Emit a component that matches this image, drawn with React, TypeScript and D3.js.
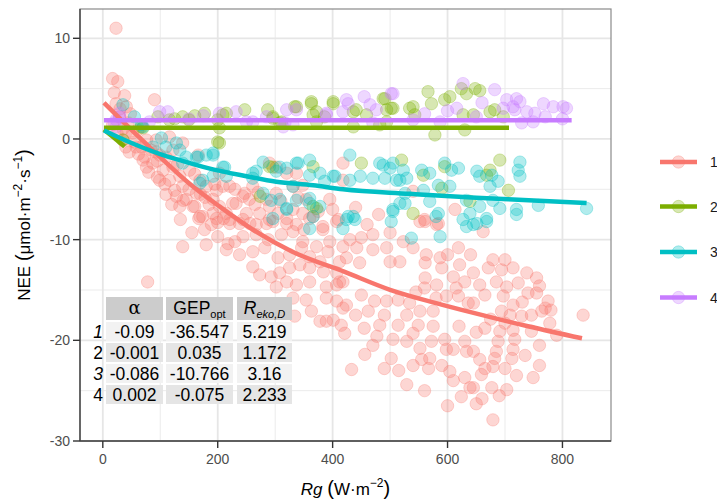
import React from 'react';
import * as d3 from 'd3';

const W = 717;
const H = 502;

const seriesNames = ['1', '2', '3', '4'];
const colors = ['#F8766D', '#7CAE00', '#00BFC4', '#C77CFF'];
const xTicks = [0, 200, 400, 600, 800];
const yTicks = [-30, -20, -10, 0, 10];
const xMinor = [100, 300, 500, 700];
const yMinor = [-25, -15, -5, 5];

const rowHeads = ['1', '2', '3', '4'];
const alphaVals = ['-0.09', '-0.001', '-0.086', '0.002'];
const gepVals = ['-36.547', '0.035', '-10.766', '-0.075'];
const rVals = ['5.219', '1.172', '3.16', '2.233'];

type P = [number, number];

const pts1: P[] = [
  [23, 11.0], [17, 6.0], [26, 5.7], [20, 4.6], [38, 4.3], [90, 3.9], [23, 3.5], [41, 3.2], [29, 2.2], [17, 1.4],
  [44, 1.6], [52, 0.6], [35, -0.1], [46, -1.3], [67, -0.8], [73, -1.8], [93, -1.3], [87, -2.4], [110, -1.8], [105, -3.1],
  [122, -2.8], [116, -4.1], [134, -3.7], [139, -4.7], [125, -5.1], [145, -6.0], [163, -5.4], [166, -1.6], [160, -6.7], [174, -7.7],
  [134, -6.7], [192, -6.0], [209, -4.7], [215, -7.4], [232, -6.4], [247, -5.4], [250, -7.4], [256, -8.4], [238, -8.4], [273, -7.4],
  [290, -6.7], [305, -7.4], [320, -8.4], [331, -7.0], [348, -7.4], [366, -7.7], [354, -6.0], [383, -8.7], [418, -2.4], [302, -2.8],
  [320, -3.4], [122, -1.1], [93, -0.1], [76, -0.1], [58, -0.8], [61, 0.9], [41, 0.7], [76, -2.8], [99, -4.1], [151, -3.1],
  [169, -4.1], [180, -4.7], [203, -3.4], [70, -2.1], [84, -1.1], [99, -1.6], [128, -5.7], [157, -6.7], [192, -7.4], [169, -7.7],
  [139, -0.4], [116, 0.2], [290, -2.4], [337, -3.4], [348, -4.6], [331, -4.7], [395, -6.0], [418, -4.1], [221, -4.7], [198, -5.1],
  [244, -5.7], [226, -6.4], [203, -6.7], [221, -8.0], [285, -6.0], [302, -5.4], [285, -8.4], [261, -4.7], [540, -5.2], [613, -7.0],
  [560, -8.0], [584, -8.4], [167, -7.9], [177, -9.0], [189, -8.5], [139, -10.7], [78, -14.2], [30, 3.0], [35, 1.0], [48, 2.5],
  [25, 0.5], [55, -0.3], [62, -1.5], [40, -0.8], [80, -3.3], [95, -2.2], [108, -4.5], [130, -2.5], [150, -5.0], [140, -6.1],
  [170, -5.5], [185, -6.5], [200, -8.3], [210, -7.9],
  [198, -7.9], [221, -8.4], [244, -8.0], [267, -8.5], [296, -8.2], [320, -7.9], [337, -8.5], [360, -7.9], [383, -9.0], [407, -8.2],
  [218, -10.4], [244, -9.7], [267, -9.5], [288, -10.0], [311, -9.5], [331, -9.2], [348, -10.2], [372, -10.7], [395, -10.2], [418, -10.7],
  [238, -11.5], [261, -11.2], [282, -10.8], [305, -11.8], [325, -11.5], [346, -10.8], [360, -11.7], [378, -12.2], [392, -11.2], [412, -12.2],
  [261, -12.7], [273, -13.5], [293, -13.7], [308, -13.3], [325, -12.8], [343, -12.5], [360, -12.8], [384, -13.2], [407, -13.3], [418, -14.2],
  [302, -14.7], [320, -14.2], [337, -14.5], [360, -14.2], [389, -14.7], [407, -14.5], [331, -15.8], [354, -16.0], [363, -17.1], [389, -15.8],
  [407, -16.1], [418, -16.8], [378, -18.1], [389, -18.1], [401, -18.0], [415, -18.5], [334, -17.6],
  [430, -10.0], [442, -10.8], [424, -11.8], [447, -12.3], [470, -11.0], [494, -10.8], [500, -12.2], [517, -12.2], [523, -10.2], [563, -11.5],
  [561, -12.3], [587, -11.8], [619, -10.8], [621, -12.5], [561, -13.8], [581, -14.5], [610, -13.7], [630, -14.2], [412, -14.2], [424, -16.5],
  [450, -15.5], [473, -16.1], [462, -17.1], [494, -16.1], [514, -16.0], [534, -16.3], [552, -17.1], [529, -17.5], [575, -17.1], [598, -15.6],
  [619, -15.6], [636, -16.3], [421, -19.3], [482, -18.5], [477, -19.6], [514, -18.5], [549, -18.5], [575, -18.6], [505, -19.9], [529, -20.1],
  [552, -20.8], [572, -20.1], [595, -19.9], [610, -20.9], [630, -20.1], [633, -21.1], [456, -21.4], [502, -21.8], [555, -21.9], [569, -21.8],
  [567, -22.8], [433, -22.9], [604, -23.1], [630, -23.7], [624, -25.6], [529, -24.4], [639, -24.7], [598, -20.9], [552, -8.2], [581, -8.5],
  [561, -8.2],
  [662, -9.2], [679, -12.0], [671, -12.8], [694, -13.0], [714, -12.8], [738, -13.3], [755, -13.8], [645, -13.3], [656, -14.5], [685, -14.2],
  [703, -14.7], [723, -14.3], [740, -15.3], [755, -15.3], [775, -16.1], [645, -16.3], [665, -15.5], [697, -15.6], [714, -16.5], [694, -17.1],
  [709, -17.5], [729, -17.6], [746, -17.5], [764, -17.1], [778, -18.3], [770, -16.8], [836, -17.5], [665, -18.8], [691, -19.1], [714, -19.0],
  [746, -19.1], [688, -20.1], [717, -19.9], [645, -21.1], [685, -21.1], [714, -20.9], [712, -21.8], [682, -21.8], [656, -21.9], [679, -22.6],
  [665, -22.8], [659, -23.4], [645, -24.7], [677, -24.7], [703, -24.9], [749, -23.7], [679, -27.9],
  [310, -6.2], [340, -5.8], [375, -7.2], [400, -7.0], [410, -8.0], [290, -8.0], [265, -6.5], [350, -9.0],
  [440, -6.8], [460, -8.5], [480, -7.5], [500, -9.3], [470, -9.5], [450, -9.8],
  [540, -10.8], [560, -14.8], [590, -12.8], [615, -14.8], [600, -11.5], [640, -11.5], [545, -15.2], [580, -15.8],
  [700, -12.0], [730, -16.2], [760, -14.6], [780, -17.0], [790, -19.5], [760, -20.5], [735, -21.5], [700, -22.8], [720, -23.5],
  [690, -25.5], [660, -25.8], [650, -19.2], [700, -18.3], [675, -17.9], [760, -22.5],
  [440, -17.5], [470, -20.5], [490, -22.8], [515, -23.0], [540, -22.5], [560, -25.0], [590, -22.5], [610, -24.0], [620, -18.6],
  [650, -26.3], [600, -26.5], [540, -19.3], [490, -17.5], [455, -18.8],
  [120, -6.5], [135, -8.0], [155, -9.3], [180, -10.5], [200, -9.7], [215, -11.0], [230, -10.2], [160, -3.5], [178, -5.8],
  [195, -4.5], [230, -5.0], [255, -6.0], [270, -5.3], [110, -5.5], [95, -3.8],
];

const pts2: P[] = [
  [139, 2.2], [177, 2.55], [209, 2.4], [247, 2.9], [287, 2.9], [296, 2.2], [337, 3.2], [363, 3.7], [366, 2.4], [401, 3.7],
  [436, 2.7], [491, 4.0], [505, 3.05], [534, 3.05], [96, 2.2], [70, 1.1], [116, 1.9], [203, -0.4], [203, 1.1], [436, 1.2],
  [308, 1.6], [372, 1.7], [482, 1.4], [35, -0.1], [200, 1.9], [215, 2.55], [296, 2.05], [334, 3.2], [363, 3.5], [372, 2.7],
  [401, 3.5], [386, 2.2], [441, 2.9], [459, 2.4], [488, 4.0], [502, 3.05], [494, 1.7], [311, 1.7], [494, 2.9], [540, 3.2],
  [566, 4.7], [572, 3.5], [595, 3.9], [604, 4.2], [624, 5.0], [633, 4.5], [648, 5.0], [656, 4.8], [627, 2.4], [645, 2.4],
  [674, 2.7], [682, 2.9], [697, 2.2], [543, 2.4], [578, 0.4], [630, 0.9], [274, -5.7], [366, -6.7], [296, -2.8], [450, -2.4],
  [520, -2.1], [290, -2.75], [366, -2.75], [372, -6.9], [558, -3.6], [590, -4.9], [595, -2.75], [540, -7.4], [639, -6.2], [668, -3.6],
  [691, -2.1], [706, -5.1], [674, -3.1], [67, 1.2], [200, -0.3], [150, 1.9], [160, 2.3], [125, 2.0],
];

const pts3: P[] = [
  [35, 3.4], [55, 2.2], [70, 1.2], [87, -0.8], [102, 0.1], [128, -0.4], [134, -1.1], [139, -2.4], [163, -1.8], [180, -1.6],
  [192, -1.6], [174, -4.1], [192, -3.7], [212, -2.8], [215, -3.7], [261, -3.4], [279, -2.3], [308, -2.8], [337, -2.4], [360, -2.1],
  [378, -3.4], [401, -3.7], [430, -1.6], [448, -3.7], [470, -3.9], [488, -2.6], [511, -4.1], [523, -3.1], [279, -5.4], [293, -6.1],
  [320, -7.0], [337, -6.1], [360, -6.4], [378, -6.7], [366, -7.7], [424, -8.0], [436, -7.7], [505, -7.0], [517, -6.4], [526, -5.4],
  [110, -0.8], [145, -1.8], [192, -1.4], [209, -2.8], [267, -3.2], [302, -3.2], [320, -2.9], [340, -2.4], [360, -3.6], [386, -4.2],
  [404, -3.7], [430, -4.1], [502, -8.2], [427, -7.7], [360, -5.9], [320, -6.9], [308, -6.0], [331, -4.7], [261, -3.9], [505, -2.4],
  [529, -3.9], [482, -2.4], [500, -2.9], [491, -3.9], [517, -4.1], [555, -3.1], [569, -3.4], [595, -2.4], [607, -3.1], [619, -2.9],
  [584, -4.6], [604, -4.7], [651, -3.2], [656, -3.7], [677, -3.6], [688, -4.2], [674, -4.7], [679, -6.1], [691, -6.9], [656, -6.7],
  [633, -6.1], [639, -7.4], [668, -7.9], [651, -8.4], [720, -7.0], [726, -2.3], [723, -3.1], [726, -3.7], [758, -6.6], [842, -6.9],
  [505, -7.2], [526, -6.4], [569, -6.2], [584, -7.4], [627, -8.0], [558, -5.1], [296, -7.9], [360, -8.9], [418, -8.9], [439, -8.0],
  [580, -7.7], [633, -8.7], [645, -8.5], [668, -8.2], [720, -7.5], [67, 1.4], [166, -1.8], [169, -4.4], [537, -9.85], [587, -9.7],
];

const pts4: P[] = [
  [113, 2.7], [424, 3.9], [505, 4.5], [465, 3.4], [418, 2.7], [314, 1.2], [203, 2.55], [81, 1.7], [250, 1.7], [337, 2.9],
  [470, 1.6], [23, 1.2], [29, 2.2], [29, 2.55], [23, 1.9], [20, 1.6], [427, 3.5], [502, 4.5], [317, 1.6], [261, 1.7],
  [476, 2.9], [389, 2.4], [627, 5.5], [682, 4.9], [720, 4.0], [726, 3.7], [738, 2.7], [752, 2.55], [767, 3.5], [784, 3.2],
  [801, 3.2], [729, 1.6], [749, 1.7], [587, 1.7], [616, 3.05], [697, 3.05], [714, 3.2], [703, 3.9], [717, 2.9], [807, 3.05],
  [99, 2.7], [232, 2.7], [285, 2.2], [320, 2.9], [389, 2.55], [331, 1.4], [150, 2.0], [175, 2.3], [560, 2.5], [650, 2.2],
  [540, 1.9], [600, 2.8], [660, 3.6], [770, 2.2], [800, 2.0], [455, 4.2],
];

const line1: P[] = [
  [2, 3.6], [50, 0.9], [99, -1.76], [150, -4.4], [203, -6.7], [262, -9.04], [330, -11.2], [421, -13.2], [500, -14.98],
  [580, -16.3], [647, -17.3], [740, -18.6], [834, -19.8],
];
const line2main: P[] = [
  [2, 1.12], [100, 1.12], [707, 1.12],
];
const line2dip: P[] = [
  [2, 0.95], [38, -0.75],
];
const line3: P[] = [
  [2, 0.85], [50, -0.4], [100, -1.5], [134, -2.1], [183, -2.9], [250, -3.7], [302, -4.24], [366, -4.6], [418, -5.0],
  [534, -5.45], [650, -5.85], [750, -6.1], [842, -6.36],
];
const line4: P[] = [
  [2, 1.85], [816, 1.85],
];

const allPts = [pts1, pts2, pts3, pts4];
const allLines: { data: P[]; s: number; curve: boolean }[] = [
  { data: line1, s: 0, curve: true },
  { data: line2main, s: 1, curve: false },
  { data: line2dip, s: 1, curve: false },
  { data: line3, s: 2, curve: true },
  { data: line4, s: 3, curve: false },
];

const FONT = 'Arial, "Liberation Sans", Helvetica, sans-serif';

export default function App() {
  const left = 80, right = 611, top = 9, bottom = 441;
  const x = d3.scaleLinear().domain([-39.7, 884.5]).range([left, right]);
  const y = d3.scaleLinear().domain([-30, 12.91]).range([bottom, top]);

  const lineGen = (curve: boolean) =>
    d3.line<P>().x(d => x(d[0])).y(d => y(d[1])).curve(curve ? d3.curveMonotoneX : d3.curveLinear);

  const colX = [[106, 163], [166, 233], [237, 292]];
  const headY: [number, number] = [297, 320];
  const rowY: [number, number][] = [[322, 341], [343, 362], [364, 383], [385, 404]];
  const rowFill = ['#f2f2f2', '#e5e5e5', '#f2f2f2', '#e5e5e5'];
  const cols = [alphaVals, gepVals, rVals];

  const legendY = [162, 206.5, 252, 297.5];

  return (
    <svg width={W} height={H} style={{ position: 'absolute', left: 0, top: 0 }} fontFamily={FONT}>
      <rect x={0} y={0} width={W} height={H} fill="#fff" />
      {xMinor.map(v => (
        <line key={'xm' + v} x1={x(v)} x2={x(v)} y1={top} y2={bottom} stroke="#ebebeb" strokeWidth={1} />
      ))}
      {yMinor.map(v => (
        <line key={'ym' + v} x1={left} x2={right} y1={y(v)} y2={y(v)} stroke="#ebebeb" strokeWidth={1} />
      ))}
      {xTicks.map(v => (
        <line key={'xg' + v} x1={x(v)} x2={x(v)} y1={top} y2={bottom} stroke="#e6e6e6" strokeWidth={1.8} />
      ))}
      {yTicks.map(v => (
        <line key={'yg' + v} x1={left} x2={right} y1={y(v)} y2={y(v)} stroke="#e6e6e6" strokeWidth={1.8} />
      ))}

      {allPts.map((pts, i) => (
        <g key={'p' + i}>
          {pts.map((d, j) => (
            <circle key={j} cx={x(d[0])} cy={y(d[1])} r={6.2} fill={colors[i]} fillOpacity={0.3}
              stroke={colors[i]} strokeOpacity={0.3} strokeWidth={1} />
          ))}
        </g>
      ))}

      {allLines.map((ln, i) => (
        <path key={'l' + i} d={lineGen(ln.curve)(ln.data) || ''} fill="none" stroke={colors[ln.s]}
          strokeWidth={4.5} />
      ))}

      <g>
        {colX.map((c, k) => (
          <rect key={'h' + k} x={c[0]} y={headY[0]} width={c[1] - c[0]} height={headY[1] - headY[0]} fill="#cccccc" />
        ))}
        <text x={(colX[0][0] + colX[0][1]) / 2} y={314} textAnchor="middle" fontSize={18}
          fontFamily='"DejaVu Serif", "Liberation Serif", serif' fill="#000">α</text>
        <text x={(colX[1][0] + colX[1][1]) / 2} y={314} textAnchor="middle" fontSize={17.5} fill="#000">
          GEP<tspan fontSize={11} dy={4}>opt</tspan>
        </text>
        <text x={(colX[2][0] + colX[2][1]) / 2} y={314} textAnchor="middle" fontSize={17.5} fill="#000" fontStyle="italic">
          R<tspan fontSize={11} dy={4}>eko,D</tspan>
        </text>
        {rowY.map((r, i) => (
          <g key={'r' + i}>
            {colX.map((c, k) => (
              <rect key={k} x={c[0]} y={r[0]} width={c[1] - c[0]} height={r[1] - r[0]} fill={rowFill[i]} />
            ))}
            <text x={98} y={(r[0] + r[1]) / 2 + 6.3} textAnchor="middle" fontSize={17.5} fill="#000"
              fontStyle={i % 2 === 0 ? 'italic' : 'normal'}>{rowHeads[i]}</text>
            {cols.map((vals, k) => (
              <text key={'t' + k} x={(colX[k][0] + colX[k][1]) / 2} y={(r[0] + r[1]) / 2 + 6.3} textAnchor="middle"
                fontSize={17.5} fill="#000">{vals[i]}</text>
            ))}
          </g>
        ))}
      </g>

      <rect x={left} y={top} width={right - left} height={bottom - top} fill="none" stroke="#8a8a8a" strokeWidth={1.2} />
      <line x1={left} x2={left} y1={top} y2={bottom} stroke="#444" strokeWidth={1.4} />
      <line x1={left} x2={right} y1={bottom} y2={bottom} stroke="#444" strokeWidth={1.4} />
      {yTicks.map(v => (
        <g key={'yt' + v}>
          <line x1={left - 7} x2={left} y1={y(v)} y2={y(v)} stroke="#333" strokeWidth={1.4} />
          <text x={left - 10} y={y(v) + 5} textAnchor="end" fontSize={14} fill="#4d4d4d">{v}</text>
        </g>
      ))}
      {xTicks.map(v => (
        <g key={'xt' + v}>
          <line x1={x(v)} x2={x(v)} y1={bottom} y2={bottom + 7} stroke="#333" strokeWidth={1.4} />
          <text x={x(v)} y={bottom + 23} textAnchor="middle" fontSize={14} fill="#4d4d4d">{v}</text>
        </g>
      ))}

      <text x={(left + right) / 2} y={495} textAnchor="middle" fontSize={17} fill="#000">
        <tspan fontStyle="italic">Rg</tspan>
        <tspan> </tspan>
        <tspan fontSize={20}>(</tspan>
        <tspan>W·m</tspan>
        <tspan fontSize={12} dy={-8}>−2</tspan>
        <tspan fontSize={20} dy={8}>)</tspan>
      </text>
      <text transform={`translate(30, ${(top + bottom) / 2}) rotate(-90)`} textAnchor="middle" fontSize={17} fill="#000">
        <tspan>NEE </tspan>
        <tspan fontSize={20}>(</tspan>
        <tspan>μmol·m</tspan>
        <tspan fontSize={12} dy={-8}>−2</tspan>
        <tspan dy={8}>·s</tspan>
        <tspan fontSize={12} dy={-8}>−1</tspan>
        <tspan fontSize={20} dy={8}>)</tspan>
      </text>

      {seriesNames.map((s, i) => (
        <g key={'lg' + i}>
          <line x1={660} x2={697} y1={legendY[i]} y2={legendY[i]} stroke={colors[i]} strokeWidth={4.5} />
          <circle cx={678.5} cy={legendY[i]} r={6.2} fill={colors[i]} fillOpacity={0.3} stroke={colors[i]}
            strokeOpacity={0.3} />
          <text x={710} y={legendY[i] + 5} fontSize={14} fill="#1a1a1a">{s}</text>
        </g>
      ))}
    </svg>
  );
}
